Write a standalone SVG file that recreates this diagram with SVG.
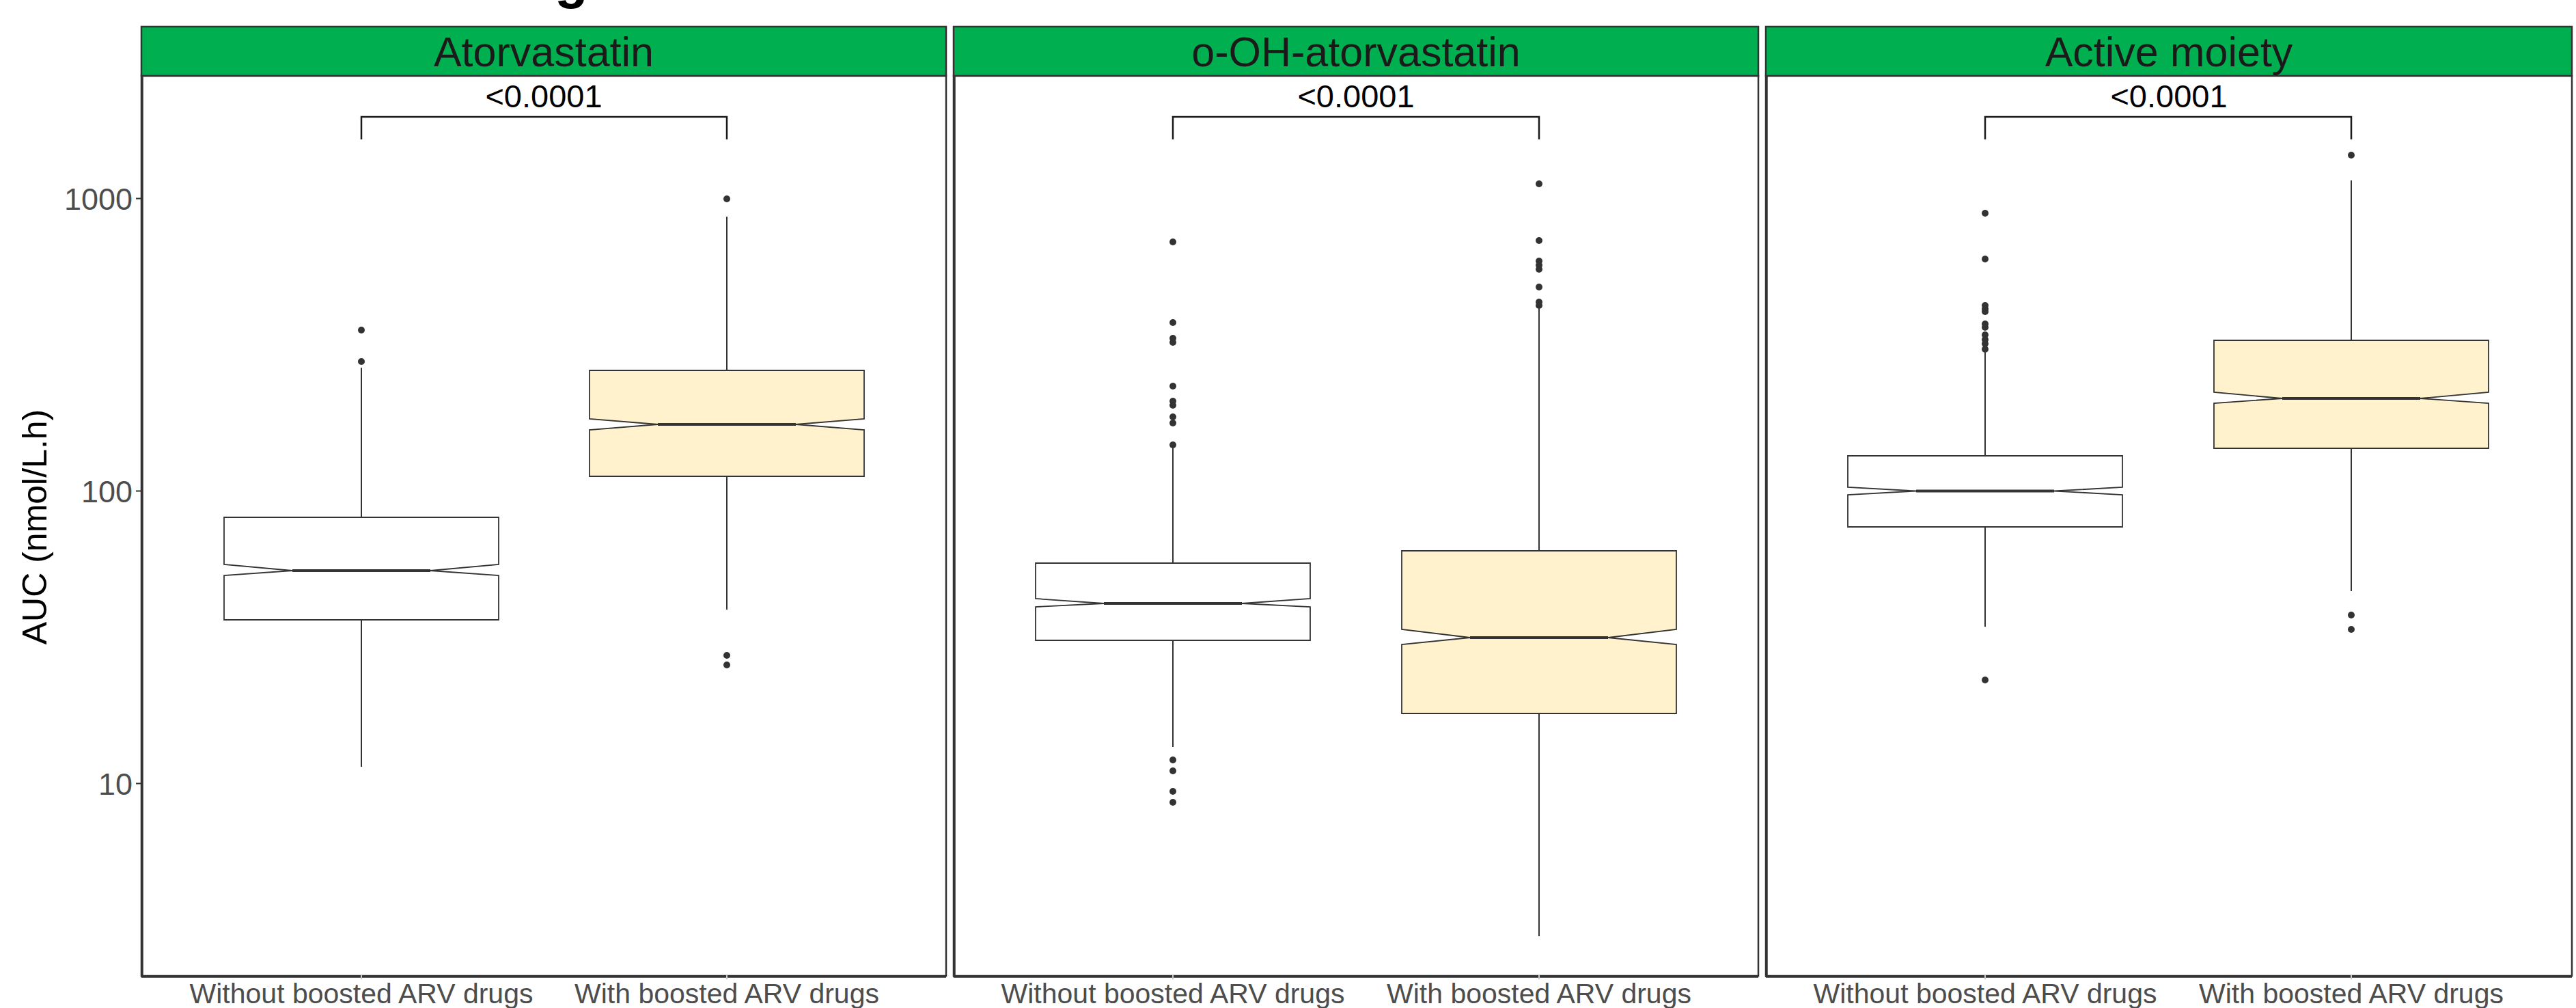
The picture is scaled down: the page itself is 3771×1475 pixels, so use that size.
<svg xmlns="http://www.w3.org/2000/svg" width="3771" height="1475" viewBox="0 0 3771 1475">
<style>
text{font-family:"Liberation Sans",Arial,sans-serif}
.strip{fill:#00B050;stroke:#333333;stroke-width:2.5}
.stript{font-size:61px;fill:#1a1a1a;text-anchor:middle}
.panel{fill:#ffffff;stroke:#333333;stroke-width:2.5}
.axis{stroke:#333333;stroke-width:3.5;fill:none}
.xtick{stroke:#c8c8c8;stroke-width:2}
.ytick{stroke:#333333;stroke-width:2}
.ylab{font-size:45px;fill:#4d4d4d;text-anchor:end}
.xlab{font-size:41px;fill:#4d4d4d;text-anchor:middle}
.box0{fill:#ffffff;stroke:#333333;stroke-width:1.8}
.box1{fill:#FFF2CC;stroke:#333333;stroke-width:1.8}
.med{stroke:#333333;stroke-width:4}
.wh{stroke:#333333;stroke-width:2}
.out{fill:#333333}
.br{stroke:#1a1a1a;stroke-width:2.5;fill:none}
.pv{font-size:47px;fill:#000000;text-anchor:middle}
</style>
<rect width="3771" height="1475" fill="#ffffff"/>
<text x="812" y="-4" style="font-size:80px;font-weight:bold;fill:#000">g</text>
<text transform="translate(68,771) rotate(-90)" style="font-size:50px;fill:#000;text-anchor:middle">AUC (nmol/L.h)</text>

<g id="yaxis">
<line class="ytick" x1="199" y1="290.5" x2="207" y2="290.5"/>
<line class="ytick" x1="199" y1="718.5" x2="207" y2="718.5"/>
<line class="ytick" x1="199" y1="1146.5" x2="207" y2="1146.5"/>
<text class="ylab" x="194" y="306.5">1000</text>
<text class="ylab" x="194" y="734.5">100</text>
<text class="ylab" x="194" y="1162.5">10</text>
</g>

<g id="panel-atorvastatin">
<rect class="panel" x="207" y="111" width="1178" height="1317"/>
<rect class="strip" x="207" y="39" width="1178" height="72"/>
<text class="stript" x="796" y="97">Atorvastatin</text>
<line class="axis" x1="207" y1="1429" x2="1385" y2="1429"/>
<line class="axis" x1="208" y1="111" x2="208" y2="1430"/>
<line class="xtick" x1="529" y1="1426" x2="529" y2="1433"/>
<line class="xtick" x1="1064" y1="1426" x2="1064" y2="1433"/>
<text class="xlab" x="529" y="1468">Without boosted ARV drugs</text>
<text class="xlab" x="1064" y="1468">With boosted ARV drugs</text>
<g id="p1-without">
<line class="wh" x1="529" y1="538" x2="529" y2="757"/>
<line class="wh" x1="529" y1="907" x2="529" y2="1122"/>
<path class="box0" d="M328 757H730V826L630 835L730 842V907H328V842L428 835L328 826Z"/>
<line class="med" x1="428" y1="835" x2="630" y2="835"/>
<circle class="out" cx="529" cy="483" r="5"/><circle class="out" cx="529" cy="529" r="5"/>
</g>
<g id="p1-with">
<line class="wh" x1="1064" y1="317" x2="1064" y2="542"/>
<line class="wh" x1="1064" y1="697" x2="1064" y2="892"/>
<path class="box1" d="M863 542H1265V613L1165 621L1265 629V697H863V629L963 621L863 613Z"/>
<line class="med" x1="963" y1="621" x2="1165" y2="621"/>
<circle class="out" cx="1064" cy="291" r="5"/><circle class="out" cx="1064" cy="959" r="5"/><circle class="out" cx="1064" cy="973" r="5"/>
</g>
<text class="pv" x="796" y="157">&lt;0.0001</text>
</g>

<g id="panel-ooh-atorvastatin">
<rect class="panel" x="1396" y="111" width="1178" height="1317"/>
<rect class="strip" x="1396" y="39" width="1178" height="72"/>
<text class="stript" x="1985" y="97">o-OH-atorvastatin</text>
<line class="axis" x1="1396" y1="1429" x2="2574" y2="1429"/>
<line class="axis" x1="1397" y1="111" x2="1397" y2="1430"/>
<line class="xtick" x1="1717" y1="1426" x2="1717" y2="1433"/>
<line class="xtick" x1="2253" y1="1426" x2="2253" y2="1433"/>
<text class="xlab" x="1717" y="1468">Without boosted ARV drugs</text>
<text class="xlab" x="2253" y="1468">With boosted ARV drugs</text>
<g id="p2-without">
<line class="wh" x1="1717" y1="651" x2="1717" y2="824"/>
<line class="wh" x1="1717" y1="937" x2="1717" y2="1093"/>
<path class="box0" d="M1516 824H1918V876L1818 883L1918 888V937H1516V888L1616 883L1516 876Z"/>
<line class="med" x1="1616" y1="883" x2="1818" y2="883"/>
<circle class="out" cx="1717" cy="354" r="5"/><circle class="out" cx="1717" cy="472" r="5"/><circle class="out" cx="1717" cy="495" r="5"/><circle class="out" cx="1717" cy="501" r="5"/><circle class="out" cx="1717" cy="565" r="5"/><circle class="out" cx="1717" cy="587" r="5"/><circle class="out" cx="1717" cy="593" r="5"/><circle class="out" cx="1717" cy="610" r="5"/><circle class="out" cx="1717" cy="619" r="5"/><circle class="out" cx="1717" cy="651" r="5"/><circle class="out" cx="1717" cy="1112" r="5"/><circle class="out" cx="1717" cy="1128" r="5"/><circle class="out" cx="1717" cy="1158" r="5"/><circle class="out" cx="1717" cy="1174" r="5"/>
</g>
<g id="p2-with">
<line class="wh" x1="2253" y1="447" x2="2253" y2="806"/>
<line class="wh" x1="2253" y1="1044" x2="2253" y2="1370"/>
<path class="box1" d="M2052 806H2454V921L2354 933L2454 943V1044H2052V943L2152 933L2052 921Z"/>
<line class="med" x1="2152" y1="933" x2="2354" y2="933"/>
<circle class="out" cx="2253" cy="269" r="5"/><circle class="out" cx="2253" cy="352" r="5"/><circle class="out" cx="2253" cy="382" r="5"/><circle class="out" cx="2253" cy="388" r="5"/><circle class="out" cx="2253" cy="394" r="5"/><circle class="out" cx="2253" cy="420" r="5"/><circle class="out" cx="2253" cy="442" r="5"/><circle class="out" cx="2253" cy="447" r="5"/>
</g>
<text class="pv" x="1985" y="157">&lt;0.0001</text>
</g>

<g id="panel-active-moiety">
<rect class="panel" x="2585" y="111" width="1180" height="1317"/>
<rect class="strip" x="2585" y="39" width="1180" height="72"/>
<text class="stript" x="3175" y="97">Active moiety</text>
<line class="axis" x1="2585" y1="1429" x2="3765" y2="1429"/>
<line class="axis" x1="2586" y1="111" x2="2586" y2="1430"/>
<line class="xtick" x1="2906" y1="1426" x2="2906" y2="1433"/>
<line class="xtick" x1="3442" y1="1426" x2="3442" y2="1433"/>
<text class="xlab" x="2906" y="1468">Without boosted ARV drugs</text>
<text class="xlab" x="3442" y="1468">With boosted ARV drugs</text>
<g id="p3-without">
<line class="wh" x1="2906" y1="511" x2="2906" y2="667"/>
<line class="wh" x1="2906" y1="771" x2="2906" y2="917"/>
<path class="box0" d="M2705 667H3107V713L3007 718.5L3107 724V771H2705V724L2805 718.5L2705 713Z"/>
<line class="med" x1="2805" y1="718.5" x2="3007" y2="718.5"/>
<circle class="out" cx="2906" cy="312" r="5"/><circle class="out" cx="2906" cy="379" r="5"/><circle class="out" cx="2906" cy="447" r="5"/><circle class="out" cx="2906" cy="452" r="5"/><circle class="out" cx="2906" cy="456" r="5"/><circle class="out" cx="2906" cy="474" r="5"/><circle class="out" cx="2906" cy="479" r="5"/><circle class="out" cx="2906" cy="490" r="5"/><circle class="out" cx="2906" cy="497" r="5"/><circle class="out" cx="2906" cy="503" r="5"/><circle class="out" cx="2906" cy="511" r="5"/><circle class="out" cx="2906" cy="995" r="5"/>
</g>
<g id="p3-with">
<line class="wh" x1="3442" y1="264" x2="3442" y2="498"/>
<line class="wh" x1="3442" y1="656" x2="3442" y2="865"/>
<path class="box1" d="M3241 498H3643V574L3543 583L3643 590V656H3241V590L3341 583L3241 574Z"/>
<line class="med" x1="3341" y1="583" x2="3543" y2="583"/>
<circle class="out" cx="3442" cy="227" r="5"/><circle class="out" cx="3442" cy="900" r="5"/><circle class="out" cx="3442" cy="921" r="5"/>
</g>
<text class="pv" x="3175" y="157">&lt;0.0001</text>
</g>

<g id="connectors">
<path class="br" d="M529 204V171H1064V204"/>
<path class="br" d="M1717 204V171H2253V204"/>
<path class="br" d="M2906 204V171H3442V204"/>
</g>
</svg>
